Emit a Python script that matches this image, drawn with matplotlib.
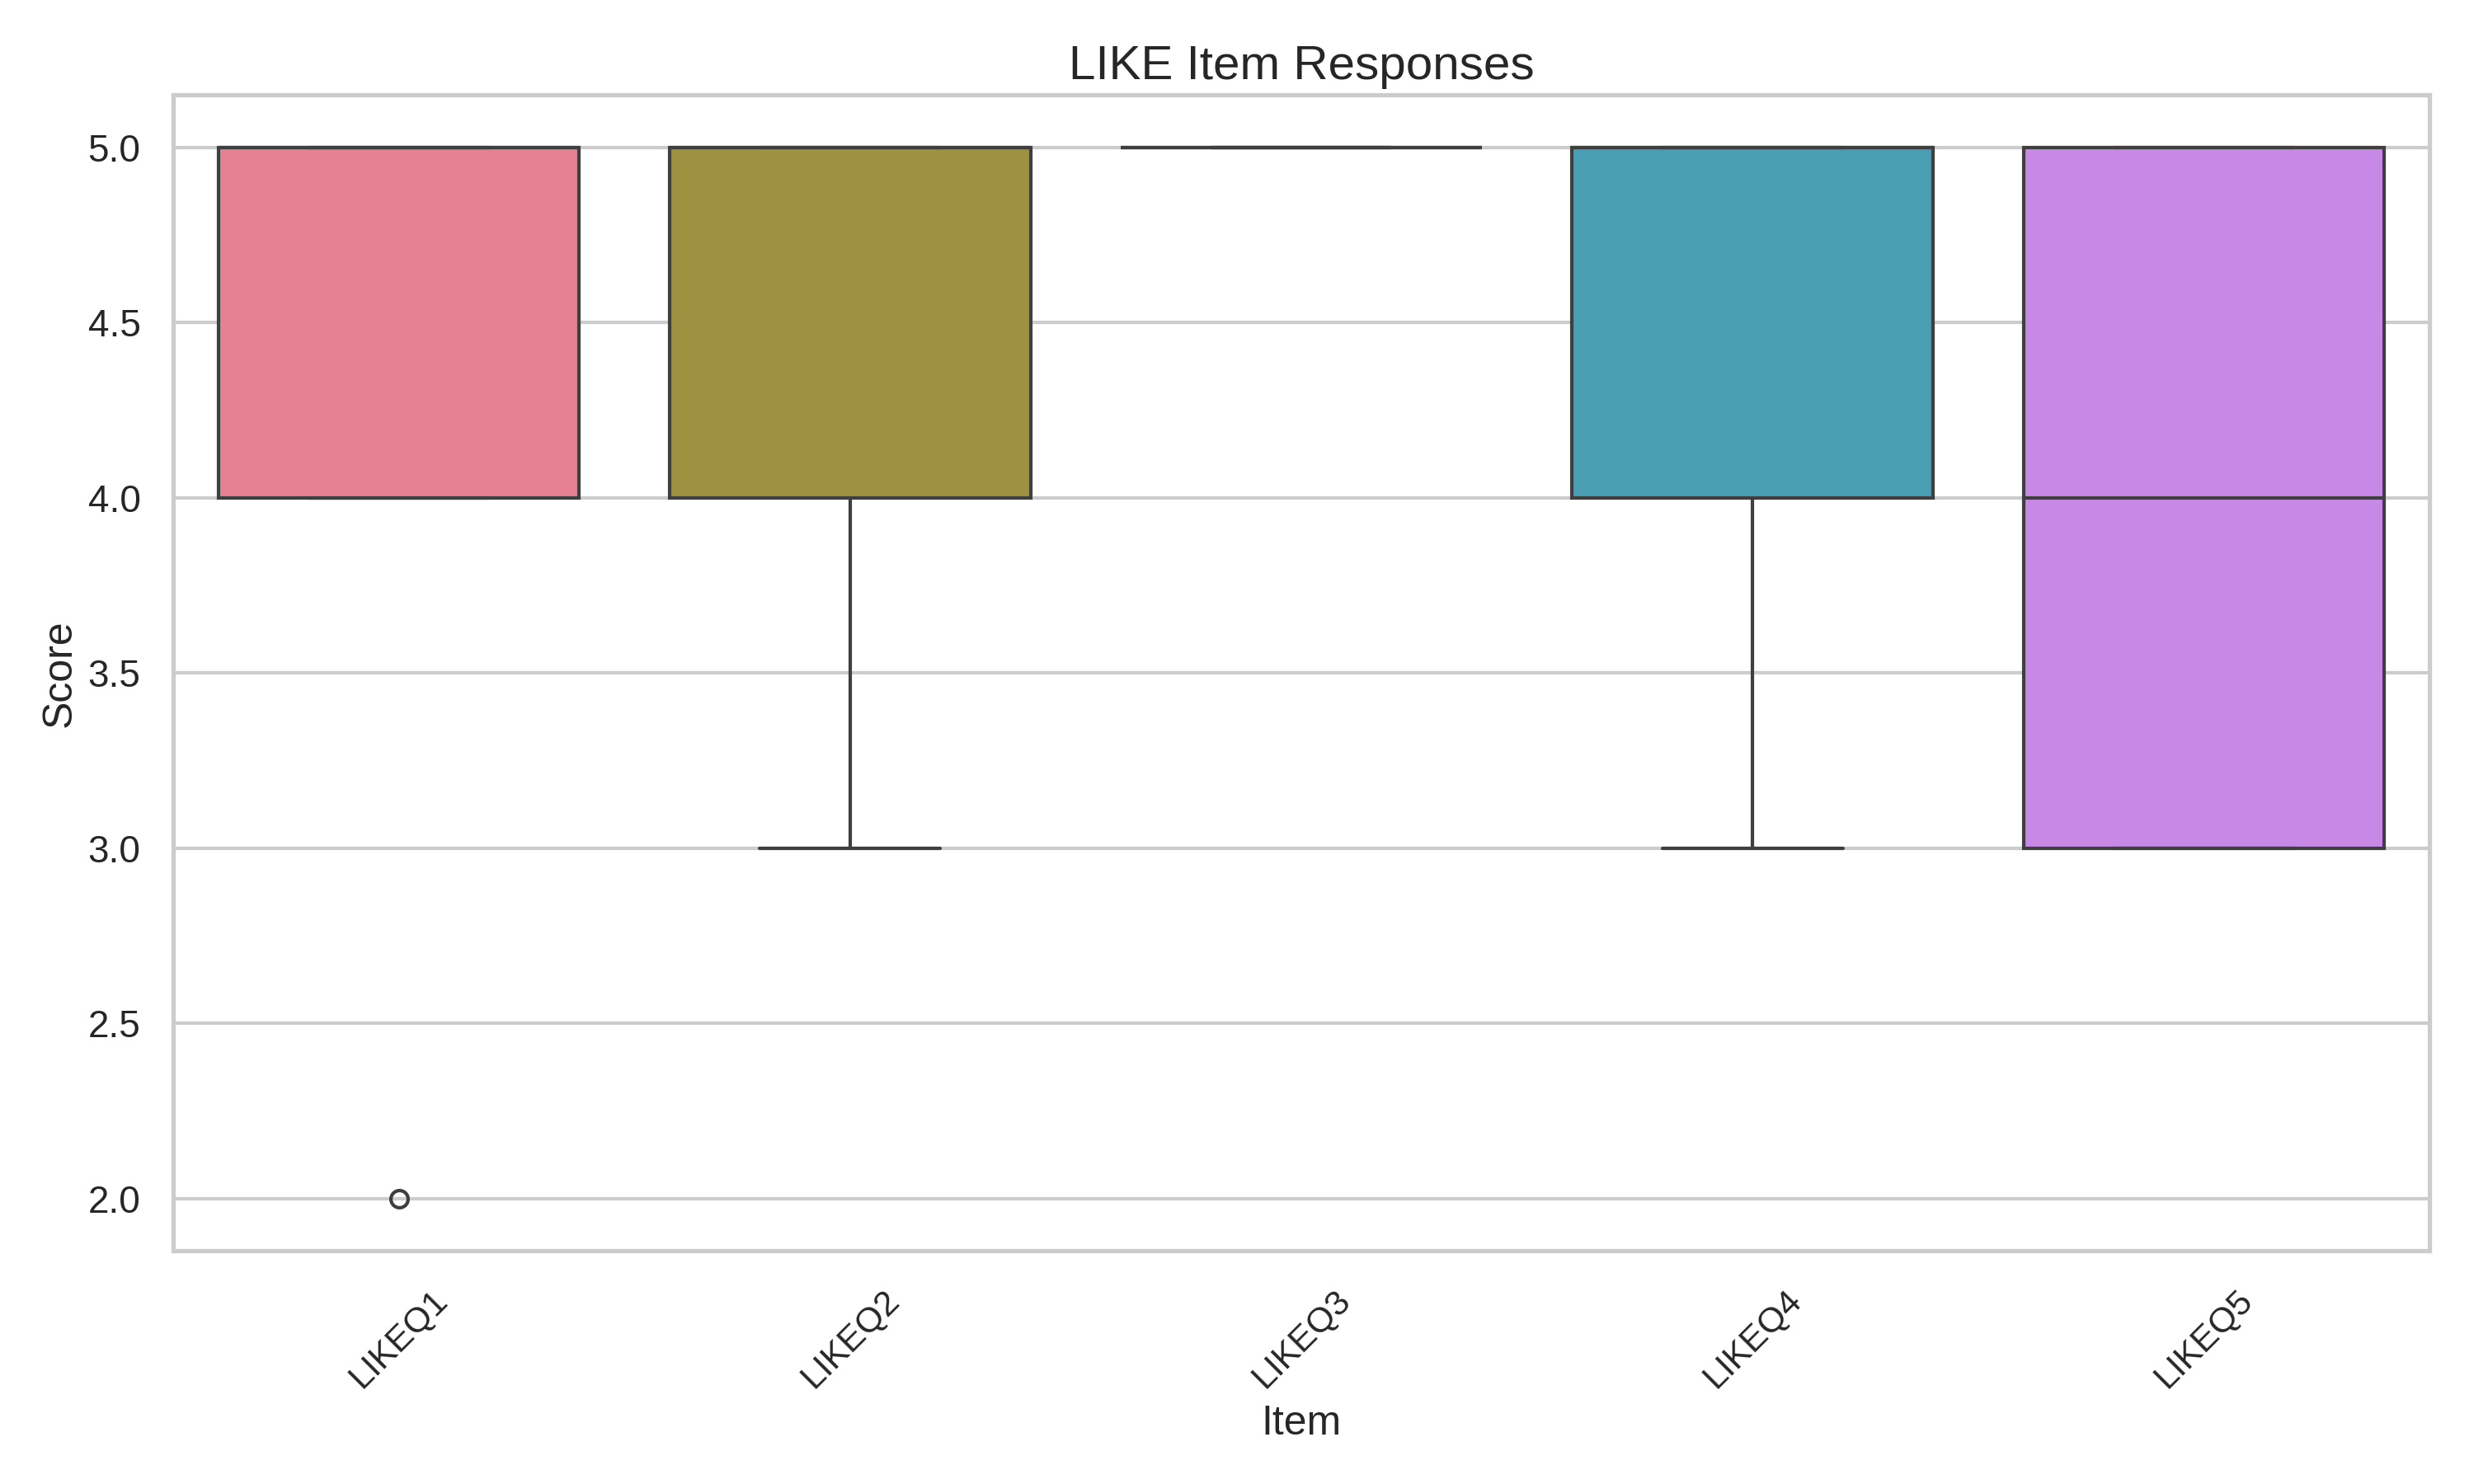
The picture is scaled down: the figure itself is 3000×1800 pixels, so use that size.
import matplotlib
matplotlib.use("Agg")
import matplotlib.pyplot as plt
import seaborn as sns

items = ["LIKEQ1", "LIKEQ2", "LIKEQ3", "LIKEQ4", "LIKEQ5"]
q1 = [4.0, 4.0, 5.0, 4.0, 3.0]
median = [5.0, 5.0, 5.0, 5.0, 4.0]
q3 = [5.0, 5.0, 5.0, 5.0, 5.0]
whislo = [4.0, 3.0, 5.0, 3.0, 3.0]
whishi = [5.0, 5.0, 5.0, 5.0, 5.0]
fliers = [[2.0], [], [], [], []]

sns.set_theme(style="whitegrid")
plt.rcParams['font.family'] = ['Arial', 'Liberation Sans', 'DejaVu Sans']

colors = sns.color_palette("husl", len(items), desat=0.75)

stats = []
for i, name in enumerate(items):
    stats.append(dict(label=name, q1=q1[i], med=median[i], q3=q3[i],
                      whislo=whislo[i], whishi=whishi[i], fliers=fliers[i]))

fig, ax = plt.subplots(figsize=(10, 6), dpi=300)
edge = "#3f3f3f"
lw = 1.0
bp = ax.bxp(stats, positions=range(len(items)), widths=0.8, patch_artist=True,
            boxprops=dict(edgecolor=edge, linewidth=lw),
            medianprops=dict(color=edge, linewidth=lw),
            whiskerprops=dict(color=edge, linewidth=lw),
            capprops=dict(color=edge, linewidth=lw),
            flierprops=dict(marker='o', markerfacecolor='none', markeredgecolor=edge,
                            markersize=5, markeredgewidth=lw))
for patch, c in zip(bp['boxes'], colors):
    patch.set_facecolor(c)
for cap in bp['caps']:
    x = cap.get_xdata()
    mid = (x[0] + x[1]) / 2
    cap.set_xdata([mid - 0.2, mid + 0.2])

ax.set_xlim(-0.5, len(items) - 0.5)
ax.xaxis.grid(False)
ax.set_title("LIKE Item Responses", fontsize=14, pad=4.5)
ax.set_xlabel("Item", fontsize=12, labelpad=3)
ax.set_ylabel("Score", fontsize=12, labelpad=2.5)
ax.tick_params(axis='y', labelsize=11)
ax.tick_params(axis='x', labelsize=10.3)
plt.setp(ax.get_xticklabels(), rotation=45)
fig.subplots_adjust(left=0.07, right=0.982, top=0.936, bottom=0.157)
fig.savefig("out.png")
plt.close(fig)
